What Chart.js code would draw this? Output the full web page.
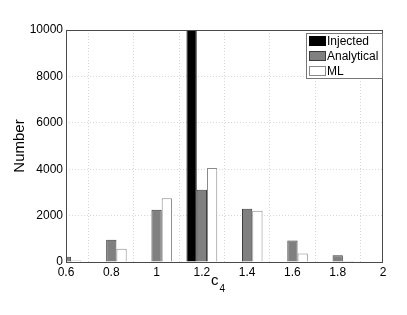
<!DOCTYPE html>
<html>
<head>
<meta charset="utf-8">
<script src="https://cdn.jsdelivr.net/npm/chart.js@4/dist/chart.umd.min.js"></script>
<style>
  body { margin: 0; background: #fff; }
</style>
</head>
<body>
<canvas id="histChart" width="407" height="315"></canvas>
<script>
// histogram bins (c4) and counts per method
const binLabels = ["0.6", "0.8", "1", "1.2", "1.4", "1.6", "1.8", "2"];
const injectedCounts = [0, 0, 0, 10000, 0, 0, 0, 0];
const analyticalCounts = [230, 960, 2250, 3110, 2290, 930, 290, 0];
const mlCounts = [60, 570, 2750, 4050, 2210, 370, 40, 0];
const yTickValues = [0, 2000, 4000, 6000, 8000, 10000];

const FONT = "'Liberation Sans', Arial, Helvetica, sans-serif";

// box around the axes, in-plot legend and axis titles (MATLAB look)
const matlabDecor = {
  id: "matlabDecor",
  afterDatasetsDraw(chart) {
    const { ctx, chartArea: a } = chart;
    ctx.save();
    ctx.strokeStyle = "#4a4a4a";
    ctx.lineWidth = 1;
    ctx.strokeRect(Math.round(a.left) + 0.5, Math.round(a.top) + 0.5,
      Math.round(a.right - a.left) - 1, Math.round(a.bottom - a.top));
    ctx.restore();
  },
  afterDraw(chart) {
    const { ctx, chartArea: a } = chart;
    ctx.save();

    // legend
    const bx = a.right - 77, by = a.top + 3, bw = 76, bh = 45;
    ctx.fillStyle = "#fff";
    ctx.fillRect(bx, by, bw, bh);
    ctx.strokeStyle = "#777";
    ctx.lineWidth = 1;
    ctx.strokeRect(bx + 0.5, by + 0.5, bw, bh);
    ctx.font = "12px " + FONT;
    ctx.textBaseline = "middle";
    ctx.textAlign = "left";
    chart.data.datasets.forEach((ds, i) => {
      const cy = by + 8 + i * 15;
      ctx.fillStyle = ds.backgroundColor;
      ctx.fillRect(bx + 3, cy - 5, 17, 10);
      ctx.strokeStyle = ds.borderColor;
      ctx.strokeRect(bx + 3.5, cy - 4.5, 16, 9);
      ctx.fillStyle = "#000";
      ctx.fillText(ds.label, bx + 21, cy + 1);
    });

    // y title
    ctx.font = "15px " + FONT;
    ctx.textAlign = "center";
    ctx.textBaseline = "middle";
    ctx.translate(20, (a.top + a.bottom) / 2);
    ctx.rotate(-Math.PI / 2);
    ctx.fillText("Number", 0, 0);
    ctx.setTransform(1, 0, 0, 1, 0, 0);

    // x title c with subscript 4
    ctx.textAlign = "left";
    ctx.textBaseline = "alphabetic";
    ctx.font = "15px " + FONT;
    ctx.fillText("c", 211, 285);
    ctx.font = "10px " + FONT;
    ctx.fillText("4", 219.5, 292);
    ctx.restore();
  }
};

new Chart(document.getElementById("histChart"), {
  type: "bar",
  data: {
    labels: binLabels,
    datasets: [
      {
        label: "Injected",
        data: injectedCounts,
        backgroundColor: "#000000",
        borderColor: "#000000",
        borderWidth: 1,
        clip: 0
      },
      {
        label: "Analytical",
        data: analyticalCounts,
        backgroundColor: "#808080",
        borderColor: "#3c3c3c",
        borderWidth: 1,
        clip: 0
      },
      {
        label: "ML",
        data: mlCounts,
        backgroundColor: "#ffffff",
        borderColor: "#8a8a8a",
        borderWidth: 1,
        clip: 0
      }
    ]
  },
  options: {
    responsive: false,
    animation: false,
    categoryPercentage: 0.68,
    barPercentage: 1,
    layout: { padding: { left: 0, right: 24, top: 30, bottom: 0 } },
    plugins: {
      legend: { display: false },
      tooltip: { enabled: false }
    },
    scales: {
      x: {
        type: "category",
        offset: false,
        grid: { color: "rgba(0,0,0,0.16)", drawTicks: false },
        border: { display: false, dash: [1, 2] },
        ticks: {
          color: "#000",
          font: { family: FONT, size: 12 },
          padding: 3,
          maxRotation: 0,
          autoSkip: false
        },
        afterFit(scale) { scale.height = 53; }
      },
      y: {
        min: 0,
        max: 10000,
        grid: { color: "rgba(0,0,0,0.16)", drawTicks: false },
        border: { display: false, dash: [1, 2] },
        afterBuildTicks(scale) {
          scale.ticks = yTickValues.map(v => ({ value: v }));
        },
        ticks: {
          color: "#000",
          font: { family: FONT, size: 12 },
          padding: 3,
          callback: v => String(v)
        },
        afterFit(scale) { scale.width = 66; }
      }
    }
  },
  plugins: [matlabDecor]
});
</script>
</body>
</html>
